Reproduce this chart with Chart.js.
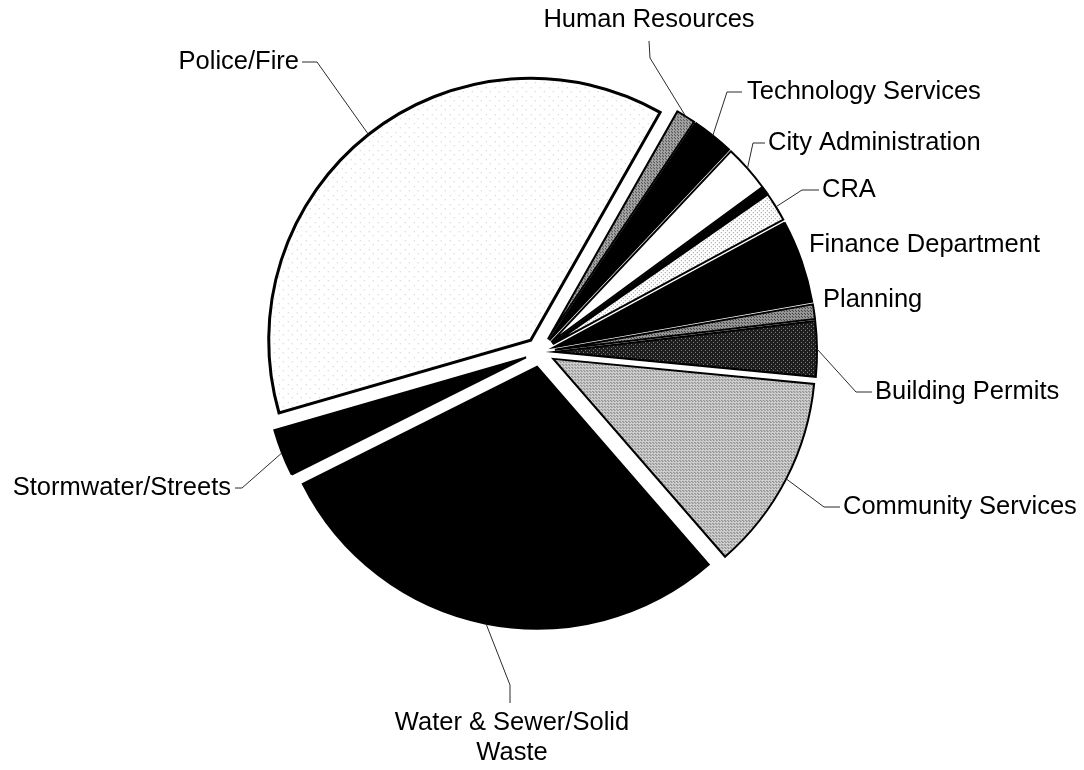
<!DOCTYPE html>
<html>
<head>
<meta charset="utf-8">
<title>Department Budget Share</title>
<script src="https://cdn.jsdelivr.net/npm/chart.js@4.4.1/dist/chart.umd.min.js"></script>
<style>
  html, body { margin: 0; padding: 0; background: #fff; }
  #wrap { width: 1084px; height: 770px; }
</style>
</head>
<body>
<div id="wrap"><canvas id="pie" width="1084" height="770"></canvas></div>
<script>
// slices clockwise from the Human Resources wedge
const departments = ['Human Resources', 'Technology Services', 'City Administration', '', 'CRA',
    'Finance Department', 'Planning', 'Building Permits', 'Community Services',
    'Water & Sewer/Solid Waste', 'Stormwater/Streets', 'Police/Fire']
const shares = [1.2, 2.6, 2.9, 0.4, 1.8, 5.1, 0.9, 3.4, 12.1, 29.0, 2.9, 37.7]

// where each label sits and the bends of its leader line (null = no label)
const labelSpots = [
    { x: 649, y: 20, align: 'center', leader: [[650, 58], [649, 41]] },
    { x: 747, y: 92, align: 'left', leader: [[727, 92], [742, 92]] },
    { x: 768, y: 143, align: 'left', leader: [[753, 143], [765, 143]] },
    null,
    { x: 822, y: 190, align: 'left', leader: [[802, 190], [819, 190]] },
    { x: 809, y: 245, align: 'left', leader: [] },
    { x: 823, y: 300, align: 'left', leader: [] },
    { x: 875, y: 392, align: 'left', leader: [[856, 392], [872, 392]] },
    { x: 843, y: 507, align: 'left', leader: [[824, 507], [840, 507]] },
    { x: 512, y: 723, align: 'center', wrap: 270, leader: [[510, 685], [510, 703]] },
    { x: 231, y: 488, align: 'right', leader: [[242, 488], [235, 488]] },
    { x: 299, y: 62, align: 'right', leader: [[317, 62], [302, 62]] },
]

const SLICE_GAP = 15
const canvas = document.getElementById('pie')
const ctx2d = canvas.getContext('2d')

// small dotted tiles so the grey wedges get a print-like texture
const texture = (base, dot, step) => {
    const tile = document.createElement('canvas')
    tile.width = step
    tile.height = step
    const t = tile.getContext('2d')
    t.fillStyle = base
    t.fillRect(0, 0, step, step)
    t.fillStyle = dot
    t.fillRect(0, 0, 1, 1)
    t.fillRect(Math.floor(step / 2), Math.floor(step / 2), 1, 1)
    return ctx2d.createPattern(tile, 'repeat')
}

const fills = [
    texture('#a6a6a6', '#3c3c3c', 3),   // human resources
    '#000',
    '#fff',
    '#000',
    texture('#ffffff', '#8c8c8c', 4),   // cra
    '#000',
    texture('#9a9a9a', '#303030', 3),   // planning
    texture('#1c1c1c', '#8a8a8a', 4),   // building permits
    texture('#d2d2d2', '#666666', 3),   // community services
    '#000',
    '#000',
    texture('#ffffff', '#c4c4c4', 9),   // police/fire
]

// pulls every wedge out along its middle angle by the same amount
const explodeSlices = {
    id: 'explodeSlices',
    beforeDatasetDraw(chart, args) {
        const ctx = chart.ctx
        args.meta.data.forEach(arc => {
            const mid = (arc.startAngle + arc.endAngle) / 2
            ctx.save()
            ctx.translate(Math.cos(mid) * SLICE_GAP, Math.sin(mid) * SLICE_GAP)
            arc.draw(ctx)
            ctx.restore()
        })
        return false
    }
}

const wrapText = (ctx, text, maxWidth) => {
    if (!maxWidth) return [text]
    const lines = []
    let line = ''
    text.split(' ').forEach(word => {
        const test = line ? line + ' ' + word : word
        if (line && ctx.measureText(test).width > maxWidth) {
            lines.push(line)
            line = word
        } else {
            line = test
        }
    })
    lines.push(line)
    return lines
}

const leaderLabels = {
    id: 'leaderLabels',
    afterDatasetsDraw(chart) {
        const ctx = chart.ctx
        const arcs = chart.getDatasetMeta(0).data
        ctx.save()
        ctx.font = '25.5px "Liberation Sans", Arial, sans-serif'
        ctx.fillStyle = '#000'
        ctx.textBaseline = 'middle'
        arcs.forEach((arc, i) => {
            const spot = labelSpots[i]
            if (!spot || !departments[i]) return
            const mid = (arc.startAngle + arc.endAngle) / 2
            const r = arc.outerRadius + SLICE_GAP
            if (spot.leader.length) {
                ctx.beginPath()
                ctx.strokeStyle = '#2a2a2a'
                ctx.lineWidth = 1
                ctx.moveTo(arc.x + Math.cos(mid) * r, arc.y + Math.sin(mid) * r)
                spot.leader.forEach(p => ctx.lineTo(p[0], p[1]))
                ctx.stroke()
            }
            ctx.textAlign = spot.align
            const lines = wrapText(ctx, departments[i], spot.wrap)
            lines.forEach((line, k) => ctx.fillText(line, spot.x, spot.y + k * 30))
        })
        ctx.restore()
    }
}

new Chart(canvas, {
    type: 'pie',
    data: {
        labels: departments,
        datasets: [{
            data: shares,
            backgroundColor: fills,
            borderColor: '#000',
            borderWidth: shares.map((v, i) => i === shares.length - 1 ? 3 : 2),
            borderJoinStyle: 'miter',
        }]
    },
    options: {
        responsive: false,
        animation: false,
        rotation: 29.6,
        radius: 262,
        layout: { padding: { left: 0, right: 4, top: 0, bottom: 66 } },
        plugins: {
            legend: { display: false },
            tooltip: { enabled: false },
        }
    },
    plugins: [explodeSlices, leaderLabels]
})
</script>
</body>
</html>
